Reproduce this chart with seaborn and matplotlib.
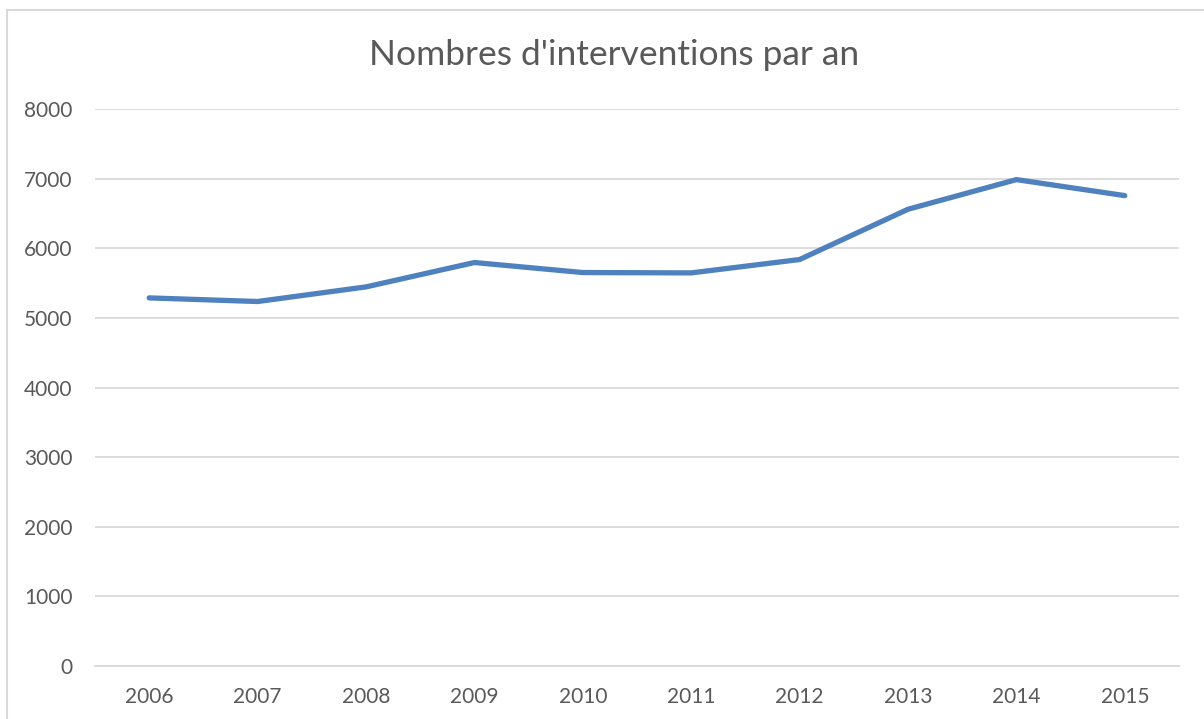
import matplotlib
matplotlib.use("Agg")
import matplotlib.pyplot as plt
import seaborn as sns
import pandas as pd
from matplotlib.lines import Line2D

years = ["2006", "2007", "2008", "2009", "2010", "2011", "2012", "2013", "2014", "2015"]
interventions = [5287, 5235, 5445, 5795, 5651, 5646, 5838, 6560, 6986, 6756]
y_ticks = [0, 1000, 2000, 3000, 4000, 5000, 6000, 7000, 8000]
title = "Nombres d'interventions par an"

df = pd.DataFrame({"year": years, "value": interventions})

sns.set_theme(style="white")
plt.rcParams['font.family'] = ['Lato', 'DejaVu Sans']

fig = plt.figure(figsize=(12.04, 7.19), dpi=100)
ax = fig.add_axes([95/1204, 1 - 666/719, (1179 - 95)/1204, (666 - 109)/719])

sns.lineplot(data=df, x="year", y="value", ax=ax, color="#4E81BD", linewidth=3.8,
             solid_capstyle="round", solid_joinstyle="round", sort=False)

ax.set_xlim(-0.5, len(years) - 0.5)
ax.set_ylim(0, 8000)
ax.set_yticks(y_ticks)
ax.set_yticklabels([str(t) for t in y_ticks])
ax.yaxis.grid(True, color="#D9D9D9", linewidth=1.3)
ax.xaxis.grid(False)
ax.set_axisbelow(True)
for s in ["top", "right", "left"]:
    ax.spines[s].set_visible(False)
ax.spines["bottom"].set_color("#D9D9D9")
ax.spines["bottom"].set_linewidth(1.3)
ax.tick_params(axis="both", length=0, labelsize=15, colors="#595959")
ax.tick_params(axis="y", pad=16)
ax.tick_params(axis="x", pad=15)
ax.set_xlabel("")
ax.set_ylabel("")

fig.text(0.5100, 1 - 55/719, title, ha="center", va="center", fontsize=25.5, color="#595959")

# chart border (light gray)
fig.add_artist(Line2D([7/1204, 7/1204], [0, 1 - 10/719], transform=fig.transFigure,
                      color="#D9D9D9", linewidth=1.5))
fig.add_artist(Line2D([7/1204, 1], [1 - 10/719, 1 - 10/719], transform=fig.transFigure,
                      color="#D9D9D9", linewidth=1.5))

fig.savefig("out.png", dpi=100, facecolor="white")
